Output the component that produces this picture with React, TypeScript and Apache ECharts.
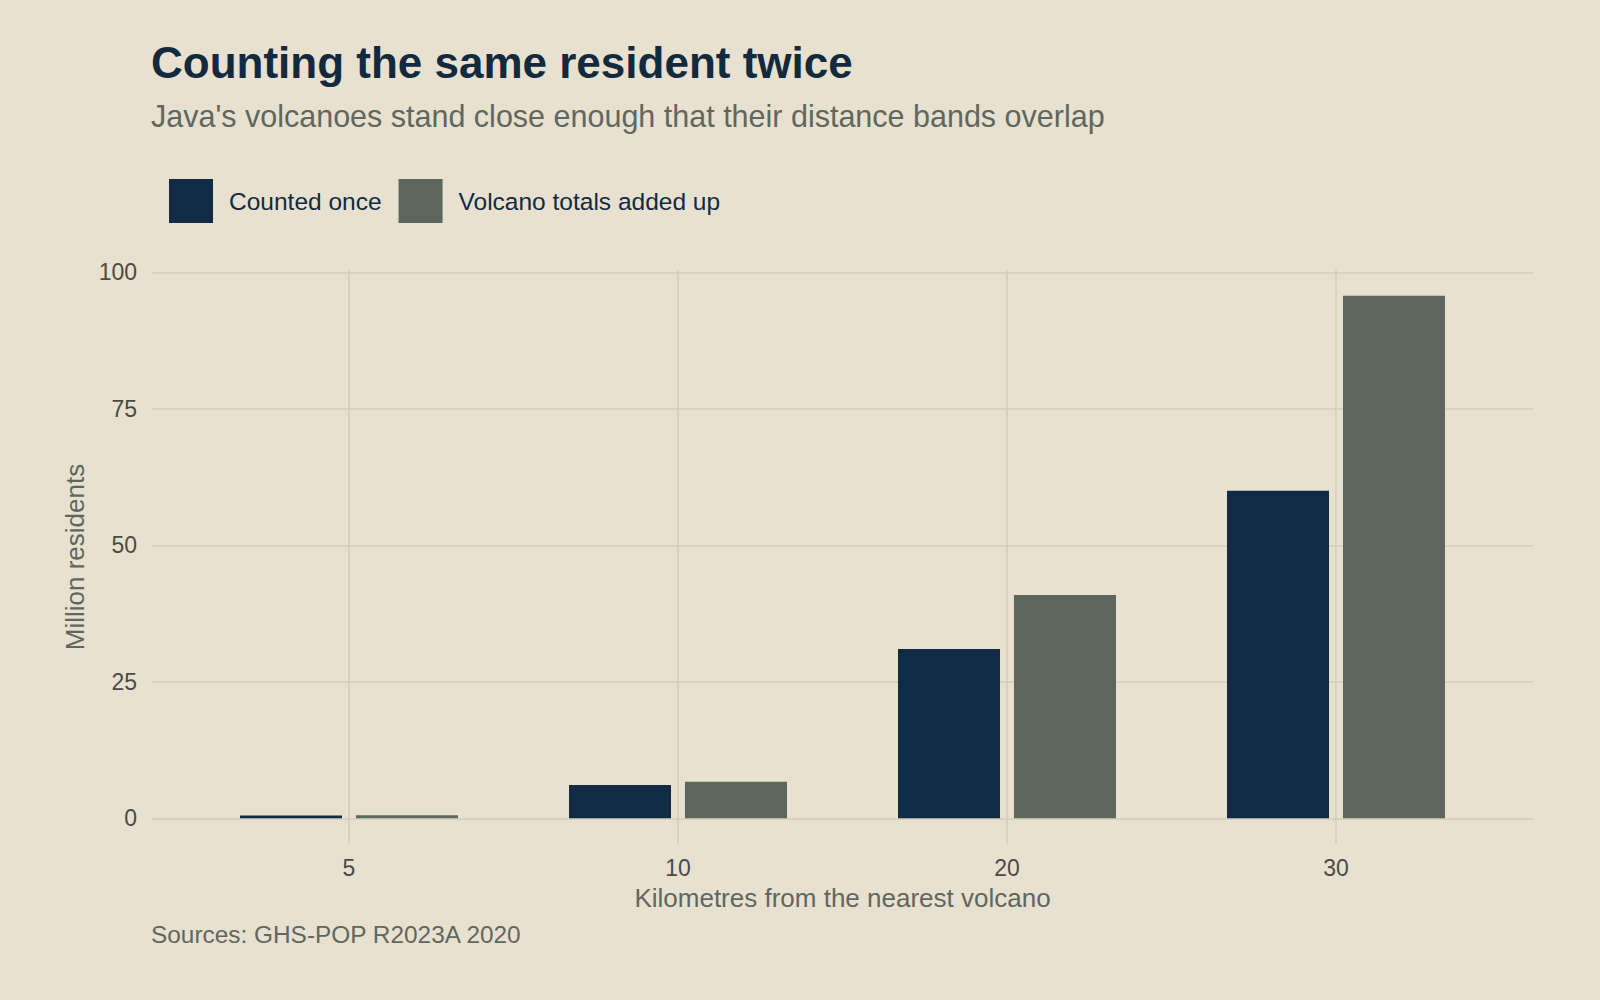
import React, { useEffect, useRef } from "react";
import * as echarts from "echarts";

const categories = ["5", "10", "20", "30"];
const countedOnce = [0.5, 6.1, 31.0, 60.0];
const volcanoTotals = [0.55, 6.7, 40.9, 95.7];
const seriesNames = ["Counted once", "Volcano totals added up"];
const yMin = 0;
const yMax = 100;
const yInterval = 25;

const TITLE = "Counting the same resident twice";
const SUBTITLE = "Java's volcanoes stand close enough that their distance bands overlap";
const X_TITLE = "Kilometres from the nearest volcano";
const Y_TITLE = "Million residents";
const SOURCE = "Sources: GHS-POP R2023A 2020";

const BG = "#e8e1cf";
const DARK = "#102b43";
const GREY = "#5d665d";
const GRID = "#d3ccbc";
const TICK = "#4a4a4a";
const MUTED = "#5f6761";
const FONT = "'Liberation Sans', Arial, Helvetica, sans-serif";

export default function App() {
  const ref = useRef<HTMLDivElement>(null);
  useEffect(() => {
    document.body.style.margin = "0";
    const chart = echarts.init(ref.current!, undefined, { renderer: "svg" });
    const panelLeft = 152;
    const panelRight = 1533;
    const y0 = 818.3;
    const y100 = 272.3;
    const panelTop = 270;
    const panelBottom = 844;
    const ppu = (y0 - y100) / (yMax - yMin);
    const bMin = -(panelBottom - y0) / ppu;
    const bMax = yMax + (y100 - panelTop) / ppu;
    const band = 329;
    const firstCenter = 349;
    const gbLeft = firstCenter - band / 2;
    const gbWidth = band * categories.length;

    chart.setOption({
      animation: false,
      backgroundColor: BG,
      textStyle: { fontFamily: FONT },
      legend: {
        left: 169,
        top: 179,
        padding: 0,
        itemWidth: 44,
        itemHeight: 44,
        itemGap: 17,
        icon: "rect",
        selectedMode: false,
        data: seriesNames,
        textStyle: {
          fontSize: 24.5,
          color: DARK,
          fontFamily: FONT,
          padding: [0, 0, 0, 11],
        },
      },
      grid: [
        { left: panelLeft, width: panelRight - panelLeft, top: y100, height: y0 - y100, containLabel: false },
        { left: gbLeft, width: gbWidth, top: panelTop, height: panelBottom - panelTop, containLabel: false },
      ],
      xAxis: [
        { type: "value", gridIndex: 0, min: 0, max: 1, show: false },
        {
          type: "category",
          gridIndex: 1,
          data: categories,
          axisLine: { show: false, onZero: false },
          axisTick: { show: false },
          splitLine: { show: false },
          axisLabel: { margin: 12, fontSize: 23, color: TICK, fontFamily: FONT },
        },
      ],
      yAxis: [
        {
          type: "value",
          gridIndex: 0,
          min: yMin,
          max: yMax,
          interval: yInterval,
          axisLine: { show: false },
          axisTick: { show: false },
          axisLabel: { margin: 15, fontSize: 23, color: TICK, fontFamily: FONT },
          splitLine: { show: true, lineStyle: { color: GRID, width: 1.5 } },
        },
        { type: "value", gridIndex: 1, min: bMin, max: bMax, show: false, splitLine: { show: false } },
      ],
      series: [
        {
          name: "gridlines",
          type: "line",
          xAxisIndex: 1,
          yAxisIndex: 1,
          data: [],
          silent: true,
          showSymbol: false,
          z: 1,
          markLine: {
            silent: true,
            z: 1,
            symbol: ["none", "none"],
            label: { show: false },
            lineStyle: { color: GRID, width: 1.5, type: "solid" },
            emphasis: { disabled: true },
            data: categories.map((c) => ({ xAxis: c })),
          },
        },
        {
          name: seriesNames[0],
          type: "bar",
          xAxisIndex: 1,
          yAxisIndex: 1,
          data: countedOnce,
          barWidth: 102,
          barGap: "13.7%",
          itemStyle: { color: DARK },
          emphasis: { disabled: true },
        },
        {
          name: seriesNames[1],
          type: "bar",
          xAxisIndex: 1,
          yAxisIndex: 1,
          data: volcanoTotals,
          barWidth: 102,
          barGap: "13.7%",
          itemStyle: { color: GREY },
          emphasis: { disabled: true },
        },
      ],
      graphic: [
        {
          type: "text",
          left: 151,
          top: 80 - 0.905 * 44,
          style: { text: TITLE, font: `bold 44px ${FONT}`, fill: "#132a3e" },
        },
        {
          type: "text",
          left: 151,
          top: 127.7 - 0.905 * 30.5,
          style: { text: SUBTITLE, font: `30.5px ${FONT}`, fill: MUTED },
        },
        {
          type: "text",
          x: (panelLeft + panelRight) / 2,
          y: 906.7 - 0.35 * 26,
          style: { text: X_TITLE, font: `26px ${FONT}`, fill: MUTED, align: "center", verticalAlign: "middle" },
        },
        {
          type: "text",
          x: 75,
          y: 557,
          rotation: Math.PI / 2,
          style: { text: Y_TITLE, font: `26px ${FONT}`, fill: MUTED, align: "center", verticalAlign: "middle" },
        },
        {
          type: "text",
          left: 151,
          top: 945 - 0.905 * 24.4,
          style: { text: SOURCE, font: `24.4px ${FONT}`, fill: MUTED },
        },
      ],
    });
    return () => chart.dispose();
  }, []);
  return <div ref={ref} style={{ width: 1600, height: 1000 }} />;
}
